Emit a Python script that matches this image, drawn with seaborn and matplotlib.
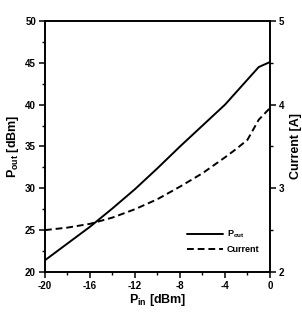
import matplotlib
matplotlib.use("Agg")
import matplotlib.pyplot as plt
import seaborn as sns
import pandas as pd
from matplotlib.ticker import MultipleLocator
from matplotlib.lines import Line2D

pin = [-20, -18, -16, -14, -12, -10, -8, -6, -4, -3, -2, -1, 0]
pout = [21.4, 23.4, 25.4, 27.6, 29.9, 32.4, 35.0, 37.5, 40.0, 41.5, 43.0, 44.5, 45.1]
current = [2.50, 2.53, 2.575, 2.65, 2.75, 2.87, 3.02, 3.18, 3.37, 3.47, 3.58, 3.82, 3.96]
x_ticks = [-20, -16, -12, -8, -4, 0]
y1_ticks = [20, 25, 30, 35, 40, 45, 50]
y2_ticks = [2, 3, 4, 5]

sns.set_style("ticks")
plt.rcParams['font.family'] = ['Liberation Sans', 'DejaVu Sans']
plt.rcParams['font.weight'] = 'bold'
plt.rcParams['text.color'] = 'black'
plt.rcParams['axes.labelcolor'] = 'black'
plt.rcParams['xtick.color'] = 'black'
plt.rcParams['ytick.color'] = 'black'
plt.rcParams['mathtext.fontset'] = 'custom'
plt.rcParams['mathtext.rm'] = 'Liberation Sans:bold'
plt.rcParams['mathtext.it'] = 'Liberation Sans:bold'
plt.rcParams['mathtext.bf'] = 'Liberation Sans:bold'

df = pd.DataFrame({"pin": pin, "pout": pout, "current": current})

fig = plt.figure(figsize=(3.02, 3.14), dpi=100)
ax = fig.add_axes([0.149, 0.134, 0.745, 0.799])
ax2 = ax.twinx()

sns.lineplot(data=df, x="pin", y="pout", ax=ax, color="black", linewidth=1.4)
sns.lineplot(data=df, x="pin", y="current", ax=ax2, color="black", linewidth=1.4,
             linestyle=(0, (3.5, 2)))

ax.set_xlim(-20, 0)
ax.set_ylim(20, 50)
ax2.set_ylim(2, 5)
ax.set_xticks(x_ticks)
ax.set_xticklabels([str(v) for v in x_ticks])
ax.set_yticks(y1_ticks)
ax.set_yticklabels([str(v) for v in y1_ticks])
ax2.set_yticks(y2_ticks)
ax2.set_yticklabels([str(v) for v in y2_ticks])
ax.xaxis.set_minor_locator(MultipleLocator(2))
ax.yaxis.set_minor_locator(MultipleLocator(2.5))
ax2.yaxis.set_minor_locator(MultipleLocator(0.5))

for a in (ax, ax2):
    for s in a.spines.values():
        s.set_linewidth(1.2)
        s.set_color("black")
    a.tick_params(which='major', direction='out', length=4.5, width=1.1, labelsize=7, pad=2,
                  colors='black')
    a.tick_params(which='minor', direction='out', length=2.5, width=1.0, colors='black')
ax.tick_params(axis='x', which='both', top=False)

ax.set_xlabel(r"$\mathregular{P_{in}}$ [dBm]", fontsize=9, fontweight='bold', labelpad=1,
              color='black')
ax.set_ylabel(r"$\mathregular{P_{out}}$ [dBm]", fontsize=9, fontweight='bold', labelpad=3,
              color='black')
ax2.set_ylabel("Current [A]", fontsize=9, fontweight='bold', labelpad=4, color='black')

handles = [Line2D([], [], color='black', linewidth=1.4),
           Line2D([], [], color='black', linewidth=1.4, linestyle=(0, (3.5, 2)))]
ax2.legend(handles, [r"$\mathregular{P_{out}}$", "Current"], loc='lower right',
           bbox_to_anchor=(0.99, 0.04), frameon=False, fontsize=6.5,
           handlelength=4.0, handletextpad=0.4, labelspacing=0.5, labelcolor='black')

fig.savefig("out.png", dpi=100)
